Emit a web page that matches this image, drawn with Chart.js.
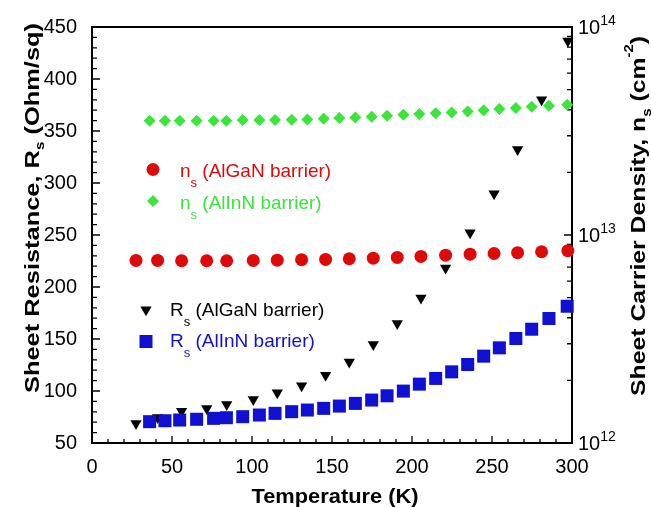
<!DOCTYPE html>
<html><head><meta charset="utf-8">
<script src="https://cdn.jsdelivr.net/npm/chart.js@4/dist/chart.umd.min.js"></script>
<style>html,body{margin:0;padding:0;background:#fff}canvas{display:block}</style>
</head><body>
<canvas id="c" width="651" height="507"></canvas>
<script>
// ---- data ----
const tempAlGaN = [27.5, 41, 56, 71.7, 84.2, 100.8, 115.8, 131, 146, 160.8, 175.8, 190.8, 205.6, 221, 236.3, 251.3, 266, 281, 297.4];
const rsAlGaN = [68.8, 74.6, 80.6, 83.2, 87, 91.8, 98.3, 105, 115.2, 128, 144.6, 164.8, 189.5, 218.2, 252.2, 289.6, 332.1, 380.1, 436.6];
const nsAlGaN = [7.55e12, 7.55e12, 7.52e12, 7.52e12, 7.52e12, 7.55e12, 7.57e12, 7.61e12, 7.63e12, 7.69e12, 7.74e12, 7.80e12, 7.89e12, 8.00e12, 8.09e12, 8.15e12, 8.22e12, 8.31e12, 8.41e12];

const tempAlInN = [36, 45.6, 54.8, 65.4, 76, 84, 94.2, 104.6, 114.4, 124.8, 134.6, 144.8, 154.6, 164.6, 174.8, 184.4, 194.6, 204.6, 214.8, 224.8, 234.8, 244.8, 254.6, 264.9, 274.8, 285.6, 297];
const rsAlInN = [70.5, 71.4, 72.1, 72.8, 73.7, 74.3, 75.3, 76.9, 78.5, 80.1, 81.7, 83.3, 85.5, 88.1, 91.3, 95.4, 99.9, 106.6, 112.1, 118.4, 125.5, 133.5, 141.5, 150.5, 159.4, 169.7, 181.5];
const nsAlInN = [3.54e13, 3.54e13, 3.54e13, 3.54e13, 3.54e13, 3.54e13, 3.57e13, 3.57e13, 3.57e13, 3.58e13, 3.59e13, 3.62e13, 3.65e13, 3.67e13, 3.70e13, 3.74e13, 3.79e13, 3.82e13, 3.85e13, 3.88e13, 3.92e13, 3.98e13, 4.03e13, 4.08e13, 4.14e13, 4.18e13, 4.23e13];

const xTicks = [0, 50, 100, 150, 200, 250, 300];
const yTicks = [50, 100, 150, 200, 250, 300, 350, 400, 450];
const y2Ticks = [1e12, 1e13, 1e14];
const y2TickExp = ['12', '13', '14'];
const xMinorStep = 10, yMinorStep = 10;
const y2Minor = [2, 3, 4, 5, 6, 7, 8, 9];

const legendItems = [
  {main: 'n', sub: 's', rest: ' (AlGaN barrier)'},
  {main: 'n', sub: 's', rest: ' (AlInN barrier)'},
  {main: 'R', sub: 's', rest: ' (AlGaN barrier)'},
  {main: 'R', sub: 's', rest: ' (AlInN barrier)'}
];

const FF = '"Liberation Sans", Arial, Helvetica, sans-serif';
const RED = '#de0a0a', GREEN = '#3ae63a', BLACK = '#000000', BLUE = '#1010d2';

function pts(xs, ys) { return xs.map((x, i) => ({x: x, y: ys[i]})); }

function drawRich(ctx, segs, x, y, rot, targetLen, align) {
  ctx.save();
  ctx.translate(x, y);
  ctx.rotate(rot);
  let total = 0;
  segs.forEach(s => { ctx.font = s.font; s.w = ctx.measureText(s.t).width; total += s.w; });
  const k = targetLen ? targetLen / total : 1;
  ctx.scale(k, 1);
  let cx = align === 'left' ? 0 : -total / 2;
  ctx.textBaseline = 'alphabetic';
  ctx.textAlign = 'left';
  segs.forEach(s => { ctx.font = s.font; ctx.fillText(s.t, cx, s.dy || 0); cx += s.w; });
  ctx.restore();
}

const framePlugin = {
  id: 'frame',
  beforeDatasetsDraw(chart) {
    const {ctx, chartArea: a, scales: {x, y, y2}} = chart;
    ctx.save();
    ctx.strokeStyle = '#000';
    ctx.lineWidth = 2;
    ctx.strokeRect(a.left, a.top, a.right - a.left, a.bottom - a.top);
    ctx.lineWidth = 1.3;
    ctx.beginPath();
    for (let v = x.min; v <= x.max; v += xMinorStep) {
      const px = x.getPixelForValue(v);
      const len = xTicks.includes(v) ? 7 : 4;
      ctx.moveTo(px, a.bottom); ctx.lineTo(px, a.bottom - len);
    }
    for (let v = y.min; v <= y.max; v += yMinorStep) {
      const py = y.getPixelForValue(v);
      const len = yTicks.includes(v) ? 8 : 5;
      ctx.moveTo(a.left, py); ctx.lineTo(a.left + len, py);
    }
    y2Ticks.forEach(d => {
      const py = y2.getPixelForValue(d);
      ctx.moveTo(a.right, py); ctx.lineTo(a.right - 8, py);
      if (d < y2.max) {
        y2Minor.forEach(m => {
          const q = y2.getPixelForValue(m * d);
          ctx.moveTo(a.right, q); ctx.lineTo(a.right - 5, q);
        });
      }
    });
    ctx.stroke();
    ctx.restore();
  }
};

const textPlugin = {
  id: 'texts',
  afterDraw(chart) {
    const {ctx, chartArea: a, scales: {y2}} = chart;
    ctx.save();
    ctx.fillStyle = '#000';
    // right axis labels 10^n
    y2Ticks.forEach((d, i) => {
      const py = y2.getPixelForValue(d);
      drawRich(ctx, [
        {t: '10', font: '20px ' + FF, dy: 7},
        {t: y2TickExp[i], font: '14px ' + FF, dy: -2}
      ], a.right + 6, py, 0, null, 'left');
    });
    // axis titles
    drawRich(ctx, [{t: 'Temperature (K)', font: 'bold 20px ' + FF}], 335, 503, 0, 167);
    drawRich(ctx, [
      {t: 'Sheet Resistance, R', font: 'bold 20px ' + FF},
      {t: 's', font: 'bold 12px ' + FF, dy: 5},
      {t: ' (Ohm/sq)', font: 'bold 20px ' + FF}
    ], 39, 208, -Math.PI / 2, 370);
    drawRich(ctx, [
      {t: 'Sheet Carrier Density, n', font: 'bold 20px ' + FF},
      {t: 's', font: 'bold 12px ' + FF, dy: 6},
      {t: ' (cm', font: 'bold 20px ' + FF},
      {t: '-2', font: 'bold 12px ' + FF, dy: -12},
      {t: ')', font: 'bold 20px ' + FF}
    ], 645, 216, -Math.PI / 2, 360);
    // legend
    const ds = chart.data.datasets;
    const legendPos = [
      {ds: 2, mx: 153, my: 169.5, tx: 180, ty: 177},
      {ds: 3, mx: 153, my: 201, tx: 180, ty: 208.5},
      {ds: 1, mx: 146, my: 309.8, tx: 170, ty: 316},
      {ds: 0, mx: 146, my: 341.5, tx: 170, ty: 347}
    ];
    legendPos.forEach((p, i) => {
      const d = ds[p.ds];
      ctx.fillStyle = d.backgroundColor;
      Chart.helpers.drawPoint(ctx, {pointStyle: d.pointStyle, radius: d.pointRadius, rotation: d.pointRotation || 0, borderWidth: 0}, p.mx, p.my);
      const it = legendItems[i];
      drawRich(ctx, [
        {t: it.main, font: '19px ' + FF},
        {t: it.sub, font: '13px ' + FF, dy: 10},
        {t: it.rest, font: '19px ' + FF}
      ], p.tx, p.ty, 0, null, 'left');
    });
    ctx.restore();
  }
};

new Chart(document.getElementById('c').getContext('2d'), {
  type: 'scatter',
  data: {
    datasets: [
      {label: 'Rs (AlInN barrier)', data: pts(tempAlInN, rsAlInN), yAxisID: 'y', pointStyle: 'rect', pointRadius: 9.2, backgroundColor: BLUE, borderWidth: 0, clip: false},
      {label: 'Rs (AlGaN barrier)', data: pts(tempAlGaN, rsAlGaN), yAxisID: 'y', pointStyle: 'triangle', pointRotation: 180, pointRadius: 6.5, backgroundColor: BLACK, borderWidth: 0, clip: false},
      {label: 'ns (AlGaN barrier)', data: pts(tempAlGaN, nsAlGaN), yAxisID: 'y2', pointStyle: 'circle', pointRadius: 6.5, backgroundColor: RED, borderWidth: 0, clip: false},
      {label: 'ns (AlInN barrier)', data: pts(tempAlInN, nsAlInN), yAxisID: 'y2', pointStyle: 'rectRot', pointRadius: 6, backgroundColor: GREEN, borderWidth: 0, clip: false}
    ]
  },
  options: {
    responsive: false,
    animation: false,
    devicePixelRatio: 1,
    layout: {padding: {top: 26, left: 0, right: 0, bottom: 0}},
    plugins: {legend: {display: false}, tooltip: {enabled: false}},
    scales: {
      x: {
        type: 'linear', position: 'bottom', min: 0, max: 300,
        afterBuildTicks: s => { s.ticks = xTicks.map(v => ({value: v})); },
        grid: {display: false, drawTicks: false}, border: {display: false},
        ticks: {font: {family: FF, size: 20}, color: '#000', padding: 12, maxRotation: 0, autoSkip: false},
        afterFit: s => { s.height = 64; }
      },
      y: {
        type: 'linear', position: 'left', min: 50, max: 450,
        afterBuildTicks: s => { s.ticks = yTicks.map(v => ({value: v})); },
        grid: {display: false, drawTicks: false}, border: {display: false},
        ticks: {font: {family: FF, size: 20}, color: '#000', padding: 15, autoSkip: false},
        afterFit: s => { s.width = 92; }
      },
      y2: {
        type: 'logarithmic', position: 'right', min: 1e12, max: 1e14,
        grid: {display: false, drawTicks: false}, border: {display: false},
        ticks: {display: false},
        afterFit: s => { s.width = 79; }
      }
    }
  },
  plugins: [framePlugin, textPlugin]
});
</script>
</body></html>
